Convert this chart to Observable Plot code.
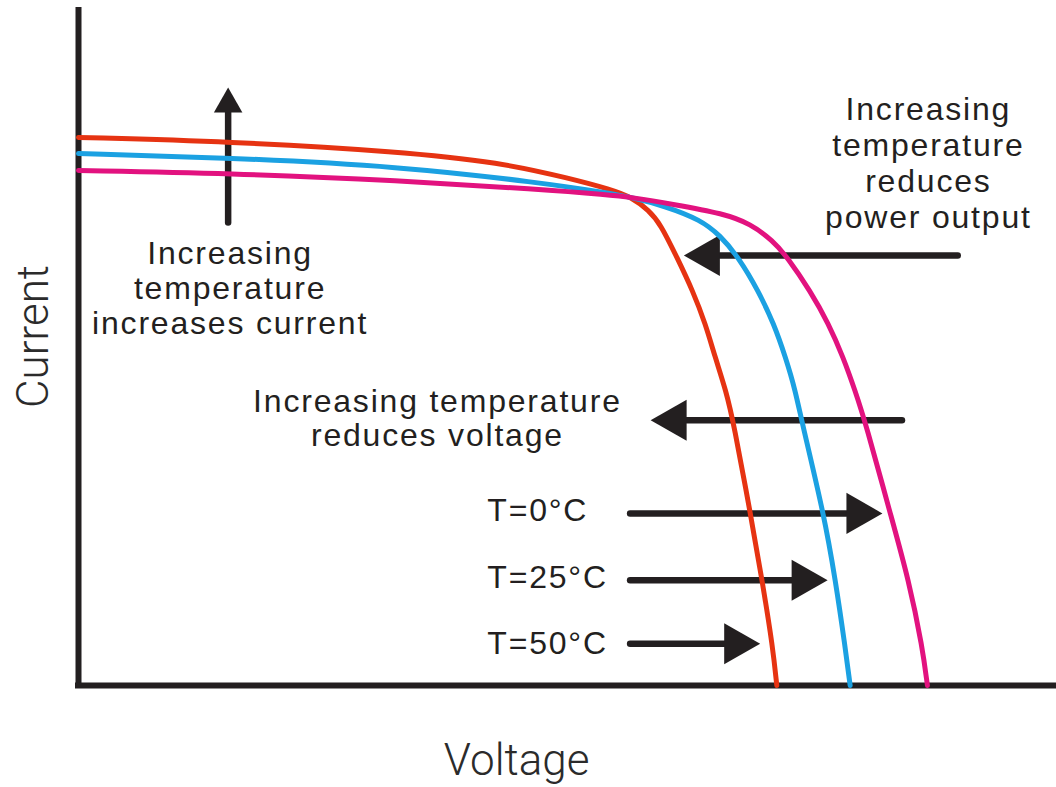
<!DOCTYPE html>
<html><head><meta charset="utf-8">
<script src="https://cdn.jsdelivr.net/npm/d3@7"></script>
<script src="https://cdn.jsdelivr.net/npm/@observablehq/plot@0.6"></script>
<style>
html,body{margin:0;padding:0;background:#fff;}
#chart svg{display:block;}
svg g[font-family^="Liberation"]{letter-spacing:1.8px;}
</style></head><body><div id="chart"></div>
<script>
// ---- Series (arbitrary units: voltage 0-100, current 0-100) ----
const seriesNames = ["T=50°C", "T=25°C", "T=0°C"];
const seriesColors = ["#e63312", "#1ba1e2", "#e2127f"];

const voltage50 = [0, 15.3, 32.9, 43.1, 50.3, 54.4, 56.6, 58.3, 59.5, 61.2, 62.8, 64.1, 65.1, 66.2, 67.0, 68.7, 69.9, 71.0, 71.4];
const current50 = [81.2, 80.6, 79.1, 77.5, 75.1, 73.5, 72.3, 70.4, 68.4, 63.4, 58.5, 53.6, 48.6, 43.7, 38.8, 25.5, 15.6, 5.6, 0];

const voltage25 = [0, 15.3, 32.9, 47.2, 54.1, 56.6, 60.0, 63.6, 65.6, 67.5, 69.5, 71.1, 72.3, 73.3, 74.0, 76.2, 77.4, 78.4, 78.9];
const current25 = [78.8, 78.2, 76.9, 74.5, 73.0, 72.3, 71.0, 69.0, 66.7, 63.4, 58.5, 53.6, 48.6, 43.7, 38.8, 25.5, 15.6, 5.6, 0];

const voltage0 = [0, 15.3, 32.9, 47.2, 54.1, 56.6, 60.8, 66.0, 68.7, 71.0, 72.5, 74.8, 76.7, 78.2, 79.4, 80.5, 83.0, 84.9, 86.3, 86.8];
const current0 = [76.3, 75.9, 74.8, 73.5, 72.7, 72.3, 71.3, 69.9, 68.4, 65.9, 63.4, 58.5, 53.6, 48.6, 43.7, 38.8, 25.5, 15.6, 5.6, 0];

// ---- Text ----
const axisLabels = ["Voltage", "Current"];
const noteTexts = [
  "Increasing\ntemperature\nincreases current",
  "Increasing\ntemperature\nreduces\npower output",
  "Increasing temperature\nreduces voltage"
];

// ---- Build table ----
const seriesData = [[voltage50, current50], [voltage25, current25], [voltage0, current0]];
const rows = [];
seriesData.forEach(([v, c], k) => v.forEach((x, i) => rows.push({series: seriesNames[k], voltage: x, current: c[i]})));

// ---- Layout ----
const W = 1056, H = 787, mL = 78, mR = 0, mT = 10, mB = 102;
const pxX = (W - mL - mR) / 100, pxY = (H - mT - mB) / 100;
const ink = "#231f20";
const annFont = "Liberation Sans, Arial, Helvetica, sans-serif";
const axFont = "Roboto, Helvetica Neue, Arial, sans-serif";
const fs = 32;

// arrows (annotation geometry)
const headH = 36, headV = 25;
const arrowsH = [
  {x1: 89.9, x2: 61.9, y: 63.7},
  {x1: 84.2, x2: 58.5, y: 39.3},
  {x1: 56.4, x2: 82.2, y: 25.5},
  {x1: 56.4, x2: 76.6, y: 15.6},
  {x1: 56.4, x2: 69.7, y: 6.2}
].map(a => ({...a, base: a.x2 - Math.sign(a.x2 - a.x1) * headH / pxX, rot: a.x2 > a.x1 ? 90 : -90}));
const arrowsV = [{x: 15.3, y1: 68.6, y2: 88.6}].map(a => ({...a, base: a.y2 - headV / pxY}));

const headSymbol = {
  draw(ctx, size) {
    const L = Math.sqrt(size / Math.PI);
    const w = L * 0.57;
    ctx.moveTo(0, 0);
    ctx.lineTo(w, L);
    ctx.lineTo(-w, L);
    ctx.closePath();
  }
};

const chart = Plot.plot({
  width: W, height: H,
  marginLeft: mL, marginRight: mR, marginTop: mT, marginBottom: mB,
  x: {domain: [0, 100], axis: null},
  y: {domain: [0, 100], axis: null},
  color: {domain: seriesNames, range: seriesColors},
  style: {background: "white", overflow: "visible"},
  marks: [
    // axes
    Plot.ruleX([0], {stroke: ink, strokeWidth: 6, strokeLinecap: "square"}),
    Plot.ruleY([0], {stroke: ink, strokeWidth: 6, strokeLinecap: "square"}),
    // arrows
    Plot.link(arrowsH, {x1: "x1", x2: "base", y1: "y", y2: "y", stroke: ink, strokeWidth: 6.5, strokeLinecap: "round"}),
    Plot.dot(arrowsH, {x: "x2", y: "y", r: headH, symbol: headSymbol, rotate: "rot", fill: ink, stroke: null}),
    Plot.link(arrowsV, {x1: "x", x2: "x", y1: "y1", y2: "base", stroke: ink, strokeWidth: 6.5, strokeLinecap: "round"}),
    Plot.dot(arrowsV, {x: "x", y: "y2", r: headV, symbol: headSymbol, rotate: 0, fill: ink, stroke: null}),
    // curves
    Plot.line(rows, {x: "voltage", y: "current", z: "series", stroke: "series", strokeWidth: 5, curve: "basis", strokeLinejoin: "round"}),
    // annotations
    Plot.text([noteTexts[0]], {x: 15.5, y: 66.2, text: d => d, fontFamily: annFont, fontSize: fs, fill: ink, textAnchor: "middle", lineAnchor: "top", lineHeight: 1.094}),
    Plot.text([noteTexts[1]], {x: 86.9, y: 87.6, text: d => d, fontFamily: annFont, fontSize: fs, fill: ink, textAnchor: "middle", lineAnchor: "top", lineHeight: 1.125}),
    Plot.text([noteTexts[2]], {x: 36.7, y: 44.1, text: d => d, fontFamily: annFont, fontSize: fs, fill: ink, textAnchor: "middle", lineAnchor: "top", lineHeight: 1.06}),
    Plot.text(seriesNames, {x: 41.8, y: [4.7, 14.5, 24.3], text: d => d, fontFamily: annFont, fontSize: fs, fill: ink, textAnchor: "start", lineAnchor: "bottom"}),
    // axis labels
    Plot.text([axisLabels[0]], {x: 44.8, y: -13.3, text: d => d, fontFamily: axFont, fontWeight: 300, fontSize: 44, fill: "#2b2b2b", textAnchor: "middle", lineAnchor: "bottom"}),
    Plot.text([axisLabels[1]], {x: -4.6, y: 51.7, text: d => d, rotate: -90, fontFamily: axFont, fontWeight: 300, fontSize: 44, fill: "#2b2b2b", textAnchor: "middle", lineAnchor: "middle"})
  ]
});
document.getElementById("chart").appendChild(chart);
</script>
</body></html>
